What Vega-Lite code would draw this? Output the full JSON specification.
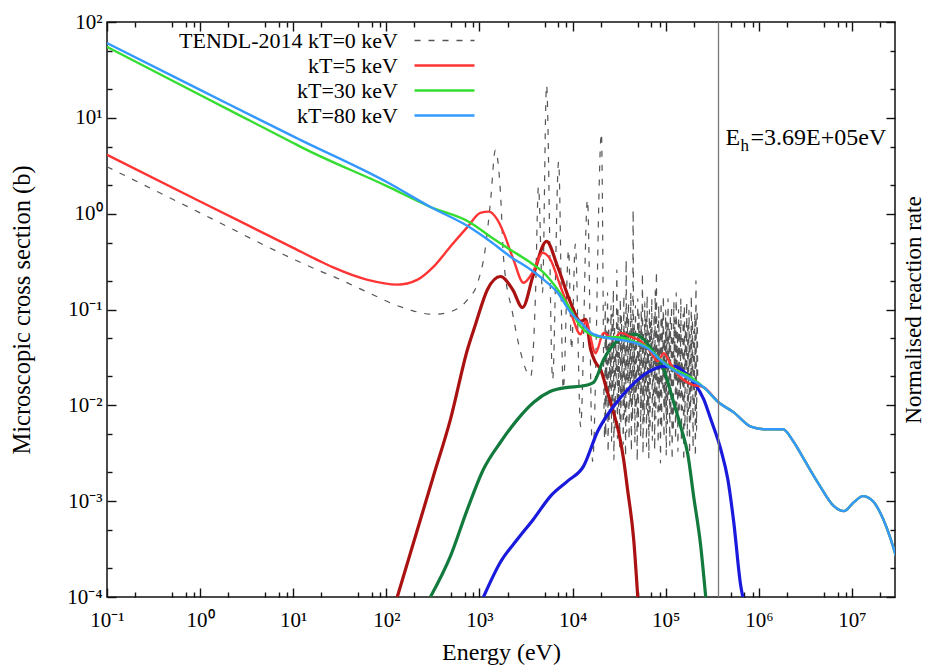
{
  "$schema": "https://vega.github.io/schema/vega-lite/v6.json",
  "width": 788,
  "height": 575,
  "autosize": {"type": "none"},
  "padding": {"left": 107, "top": 22, "right": 35, "bottom": 75},
  "background": "white",
  "config": {
    "font": "Liberation Serif",
    "view": {"stroke": "#111111", "strokeWidth": 1.5},
    "axis": {
      "labelFont": "Liberation Serif",
      "labelFontSize": 21,
      "labelColor": "black",
      "titleFont": "Liberation Serif",
      "titleFontSize": 23,
      "titleFontWeight": "normal",
      "titleColor": "black",
      "domain": false,
      "grid": false,
      "ticks": true,
      "tickColor": "#111111",
      "tickWidth": 1.4,
      "zindex": 1,
      "labelFlush": false,
      "labelOverlap": false,
      "labelBound": false
    },
    "legend": {
      "orient": "none",
      "legendX": 326,
      "legendY": 7,
      "labelAlign": "right",
      "labelOffset": -58,
      "labelLimit": 400,
      "labelFont": "Liberation Serif",
      "labelFontSize": 22,
      "labelColor": "black",
      "symbolType": "M-3,0H3",
      "symbolSize": 400,
      "symbolStrokeWidth": 2.4,
      "rowPadding": 2,
      "padding": 0
    }
  },
  "datasets": {
    "tendl": [
      {"E": 0.1, "s": 3.09}, {"E": 1, "s": 1.02}, {"E": 10, "s": 0.336}, {"E": 19.5, "s": 0.251},
      {"E": 26.9, "s": 0.221}, {"E": 63.1, "s": 0.151}, {"E": 141, "s": 0.107}, {"E": 324, "s": 0.089},
      {"E": 490, "s": 0.095}, {"E": 741, "s": 0.126}, {"E": 955, "s": 0.19}, {"E": 1150, "s": 0.42},
      {"E": 1320, "s": 1.41}, {"E": 1480, "s": 4.6}, {"E": 1680, "s": 1.66}, {"E": 1820, "s": 0.33},
      {"E": 2260, "s": 0.093}, {"E": 2760, "s": 0.036}, {"E": 3550, "s": 0.02}, {"E": 3980, "s": 0.126},
      {"E": 4300, "s": 1.9}, {"E": 4750, "s": 0.15}, {"E": 5250, "s": 21.9}, {"E": 6100, "s": 0.0186},
      {"E": 7080, "s": 3.47}, {"E": 7940, "s": 0.0148}, {"E": 9060, "s": 0.42}, {"E": 9750, "s": 0.038},
      {"E": 10700, "s": 0.48}, {"E": 12200, "s": 0.006}, {"E": 14450, "s": 1.4}, {"E": 16400, "s": 0.0026},
      {"E": 20400, "s": 6.9}, {"E": 22100, "s": 0.0045},
      {"E": 22400, "s": 0.12}, {"E": 22720, "s": 0.0048}, {"E": 23050, "s": 0.06}, {"E": 23390, "s": 0.011},
      {"E": 23730, "s": 0.15}, {"E": 24070, "s": 0.0032}, {"E": 24420, "s": 0.08}, {"E": 24770, "s": 0.0068},
      {"E": 25130, "s": 0.045}, {"E": 25490, "s": 0.015}, {"E": 25860, "s": 0.11}, {"E": 26240, "s": 0.0042},
      {"E": 26620, "s": 0.09}, {"E": 27010, "s": 0.0085}, {"E": 27400, "s": 0.16}, {"E": 27800, "s": 0.0027},
      {"E": 28200, "s": 0.07}, {"E": 28610, "s": 0.0058}, {"E": 29020, "s": 0.05}, {"E": 29440, "s": 0.019},
      {"E": 29870, "s": 0.26}, {"E": 30300, "s": 0.0045}, {"E": 30740, "s": 0.1}, {"E": 31190, "s": 0.0095},
      {"E": 31640, "s": 0.065}, {"E": 32100, "s": 0.0035}, {"E": 32560, "s": 0.13}, {"E": 33030, "s": 0.0062},
      {"E": 33510, "s": 0.085}, {"E": 34000, "s": 0.013}, {"E": 34490, "s": 0.055}, {"E": 34990, "s": 0.0039},
      {"E": 35500, "s": 0.14}, {"E": 36010, "s": 0.0078}, {"E": 36530, "s": 0.075}, {"E": 37060, "s": 0.0029},
      {"E": 37600, "s": 0.33}, {"E": 38150, "s": 0.0052}, {"E": 38700, "s": 0.095}, {"E": 39260, "s": 0.017},
      {"E": 39830, "s": 0.12}, {"E": 40410, "s": 0.0044}, {"E": 40990, "s": 0.06}, {"E": 41590, "s": 0.0105},
      {"E": 42190, "s": 0.15}, {"E": 42800, "s": 0.0033}, {"E": 43420, "s": 0.08}, {"E": 44050, "s": 0.007},
      {"E": 44690, "s": 1.1}, {"E": 45340, "s": 0.0125}, {"E": 45990, "s": 0.07}, {"E": 46660, "s": 0.0041},
      {"E": 47330, "s": 0.11}, {"E": 48020, "s": 0.009}, {"E": 48710, "s": 0.05}, {"E": 49420, "s": 0.0026},
      {"E": 50140, "s": 0.13}, {"E": 50870, "s": 0.006}, {"E": 51600, "s": 0.09}, {"E": 52350, "s": 0.016},
      {"E": 53100, "s": 0.065}, {"E": 53870, "s": 0.0047}, {"E": 54660, "s": 0.1}, {"E": 55450, "s": 0.0088},
      {"E": 56250, "s": 0.24}, {"E": 57070, "s": 0.0031}, {"E": 57900, "s": 0.055}, {"E": 58740, "s": 0.0066},
      {"E": 59590, "s": 0.12}, {"E": 60450, "s": 0.014}, {"E": 61330, "s": 0.085}, {"E": 62220, "s": 0.0037},
      {"E": 63120, "s": 0.14}, {"E": 64040, "s": 0.0081}, {"E": 64960, "s": 0.06}, {"E": 65900, "s": 0.0028},
      {"E": 66860, "s": 0.1}, {"E": 67830, "s": 0.0055}, {"E": 68810, "s": 0.075}, {"E": 69810, "s": 0.02},
      {"E": 70820, "s": 0.13}, {"E": 71850, "s": 0.0043}, {"E": 72890, "s": 0.05}, {"E": 73950, "s": 0.0098},
      {"E": 75020, "s": 0.09}, {"E": 76110, "s": 0.0034}, {"E": 77210, "s": 0.16}, {"E": 78330, "s": 0.0072},
      {"E": 79460, "s": 0.25}, {"E": 80610, "s": 0.0118}, {"E": 81780, "s": 0.07}, {"E": 82970, "s": 0.004},
      {"E": 84170, "s": 0.11}, {"E": 85390, "s": 0.0087}, {"E": 86630, "s": 0.06}, {"E": 87880, "s": 0.0025},
      {"E": 89160, "s": 0.12}, {"E": 90450, "s": 0.0057}, {"E": 91760, "s": 0.085}, {"E": 93090, "s": 0.015},
      {"E": 94440, "s": 0.14}, {"E": 95810, "s": 0.0046}, {"E": 97200, "s": 0.05}, {"E": 98610, "s": 0.0092},
      {"E": 100000, "s": 0.1}, {"E": 101400, "s": 0.003}, {"E": 102900, "s": 0.075}, {"E": 104400, "s": 0.0064},
      {"E": 105900, "s": 0.13}, {"E": 107400, "s": 0.013}, {"E": 109000, "s": 0.065}, {"E": 110600, "s": 0.0038},
      {"E": 112200, "s": 0.09}, {"E": 113800, "s": 0.008}, {"E": 115500, "s": 0.11}, {"E": 117200, "s": 0.0027},
      {"E": 118900, "s": 0.055}, {"E": 120600, "s": 0.0053}, {"E": 122300, "s": 0.12}, {"E": 124100, "s": 0.018},
      {"E": 125900, "s": 0.08}, {"E": 127700, "s": 0.0044}, {"E": 129600, "s": 0.15}, {"E": 131500, "s": 0.01},
      {"E": 133400, "s": 0.06}, {"E": 135300, "s": 0.0033}, {"E": 137300, "s": 0.1}, {"E": 139300, "s": 0.0069},
      {"E": 141300, "s": 0.07}, {"E": 143300, "s": 0.012}, {"E": 145400, "s": 0.13}, {"E": 147500, "s": 0.0041},
      {"E": 149600, "s": 0.05}, {"E": 151800, "s": 0.0089}, {"E": 154000, "s": 0.09}, {"E": 156200, "s": 0.0026},
      {"E": 158500, "s": 0.11}, {"E": 160800, "s": 0.0059}, {"E": 163100, "s": 0.065}, {"E": 165500, "s": 0.016},
      {"E": 167900, "s": 0.12}, {"E": 170300, "s": 0.0047}, {"E": 172800, "s": 0.075}, {"E": 175300, "s": 0.0086},
      {"E": 177800, "s": 0.1}, {"E": 180400, "s": 0.0031}, {"E": 183000, "s": 0.055}, {"E": 185700, "s": 0.0067},
      {"E": 188400, "s": 0.14}, {"E": 191100, "s": 0.014}, {"E": 193900, "s": 0.08}, {"E": 196700, "s": 0.0036},
      {"E": 199500, "s": 0.06}, {"E": 202400, "s": 0.0079}, {"E": 205300, "s": 0.09}, {"E": 208300, "s": 0.0029},
      {"E": 211300, "s": 0.2}, {"E": 214400, "s": 0.0054}, {"E": 217500, "s": 0.1}, {"E": 221000, "s": 0.012}
    ],
    "red": [
      {"E": 0.1, "s": 4.12}, {"E": 1, "s": 1.34}, {"E": 10, "s": 0.44}, {"E": 19.5, "s": 0.318},
      {"E": 26.9, "s": 0.275}, {"E": 63.1, "s": 0.204}, {"E": 132, "s": 0.182}, {"E": 214, "s": 0.204},
      {"E": 324, "s": 0.282}, {"E": 490, "s": 0.457}, {"E": 741, "s": 0.724}, {"E": 1023, "s": 1.02},
      {"E": 1259, "s": 1.05}, {"E": 1550, "s": 0.87}, {"E": 1820, "s": 0.63}, {"E": 2320, "s": 0.33},
      {"E": 2970, "s": 0.19}, {"E": 3720, "s": 0.243}, {"E": 4750, "s": 0.39}, {"E": 5800, "s": 0.33},
      {"E": 7420, "s": 0.174}, {"E": 9550, "s": 0.093}, {"E": 12190, "s": 0.055}, {"E": 13800, "s": 0.075},
      {"E": 17660, "s": 0.035}, {"E": 21500, "s": 0.057}, {"E": 27540, "s": 0.049}, {"E": 32800, "s": 0.057},
      {"E": 41900, "s": 0.052}, {"E": 53700, "s": 0.047}, {"E": 69000, "s": 0.036}, {"E": 82000, "s": 0.029},
      {"E": 95500, "s": 0.035}, {"E": 113000, "s": 0.027}, {"E": 145000, "s": 0.0195}, {"E": 186000, "s": 0.0166},
      {"E": 256300, "s": 0.0154}, {"E": 371500, "s": 0.0107}, {"E": 538000, "s": 0.00845}, {"E": 820000, "s": 0.006},
      {"E": 1190000, "s": 0.00562}, {"E": 1810000, "s": 0.00562}, {"E": 2380000, "s": 0.00412}, {"E": 3050000, "s": 0.00274},
      {"E": 4420000, "s": 0.0015}, {"E": 6400000, "s": 0.000887}, {"E": 8200000, "s": 0.000787}, {"E": 10500000, "s": 0.000977},
      {"E": 13100000, "s": 0.00113}, {"E": 16800000, "s": 0.001}, {"E": 20500000, "s": 0.00073}, {"E": 25000000, "s": 0.000453},
      {"E": 29700000, "s": 0.000267}
    ],
    "green": [
      {"E": 0.1, "s": 55}, {"E": 1, "s": 17.3}, {"E": 10, "s": 5.47}, {"E": 11.9, "s": 5.01},
      {"E": 100, "s": 1.95}, {"E": 295, "s": 1.18}, {"E": 800, "s": 0.805}, {"E": 1312, "s": 0.575},
      {"E": 2150, "s": 0.42}, {"E": 3530, "s": 0.309}, {"E": 4880, "s": 0.243}, {"E": 6900, "s": 0.162},
      {"E": 9510, "s": 0.1}, {"E": 12190, "s": 0.0665}, {"E": 15630, "s": 0.055}, {"E": 21550, "s": 0.0513},
      {"E": 30500, "s": 0.0513}, {"E": 45300, "s": 0.0464}, {"E": 64000, "s": 0.0402}, {"E": 88300, "s": 0.03},
      {"E": 113000, "s": 0.0249}, {"E": 186000, "s": 0.0196},
      {"E": 256300, "s": 0.0154}, {"E": 371500, "s": 0.0107}, {"E": 538000, "s": 0.00845}, {"E": 820000, "s": 0.006},
      {"E": 1190000, "s": 0.00562}, {"E": 1810000, "s": 0.00562}, {"E": 2380000, "s": 0.00412}, {"E": 3050000, "s": 0.00274},
      {"E": 4420000, "s": 0.0015}, {"E": 6400000, "s": 0.000887}, {"E": 8200000, "s": 0.000787}, {"E": 10500000, "s": 0.000977},
      {"E": 13100000, "s": 0.00113}, {"E": 16800000, "s": 0.001}, {"E": 20500000, "s": 0.00073}, {"E": 25000000, "s": 0.000453},
      {"E": 29700000, "s": 0.000267}
    ],
    "blue": [
      {"E": 0.1, "s": 60.3}, {"E": 1, "s": 19.6}, {"E": 10, "s": 6.4}, {"E": 11.9, "s": 5.89},
      {"E": 100, "s": 2.15}, {"E": 295, "s": 1.18}, {"E": 800, "s": 0.714}, {"E": 1312, "s": 0.513},
      {"E": 2150, "s": 0.356}, {"E": 3530, "s": 0.261}, {"E": 4880, "s": 0.205}, {"E": 6900, "s": 0.15},
      {"E": 9510, "s": 0.093}, {"E": 12190, "s": 0.0733}, {"E": 15630, "s": 0.0575}, {"E": 21550, "s": 0.0513},
      {"E": 30500, "s": 0.0487}, {"E": 45300, "s": 0.0453}, {"E": 64000, "s": 0.0393}, {"E": 88300, "s": 0.0295},
      {"E": 113000, "s": 0.0243}, {"E": 186000, "s": 0.0186},
      {"E": 256300, "s": 0.0154}, {"E": 371500, "s": 0.0107}, {"E": 538000, "s": 0.00845}, {"E": 820000, "s": 0.006},
      {"E": 1190000, "s": 0.00562}, {"E": 1810000, "s": 0.00562}, {"E": 2380000, "s": 0.00412}, {"E": 3050000, "s": 0.00274},
      {"E": 4420000, "s": 0.0015}, {"E": 6400000, "s": 0.000887}, {"E": 8200000, "s": 0.000787}, {"E": 10500000, "s": 0.000977},
      {"E": 13100000, "s": 0.00113}, {"E": 16800000, "s": 0.001}, {"E": 20500000, "s": 0.00073}, {"E": 25000000, "s": 0.000453},
      {"E": 29700000, "s": 0.000267}
    ],
    "rr5": [
      {"E": 131, "s": 0.0001}, {"E": 320, "s": 0.00182}, {"E": 488, "s": 0.00714}, {"E": 743, "s": 0.0383},
      {"E": 906, "s": 0.0698}, {"E": 1219, "s": 0.162}, {"E": 1682, "s": 0.221}, {"E": 2265, "s": 0.162},
      {"E": 2900, "s": 0.105}, {"E": 3800, "s": 0.232}, {"E": 5250, "s": 0.513}, {"E": 6900, "s": 0.281},
      {"E": 9510, "s": 0.118}, {"E": 12190, "s": 0.075}, {"E": 13800, "s": 0.079}, {"E": 15630, "s": 0.0383},
      {"E": 17660, "s": 0.028}, {"E": 19950, "s": 0.0237}, {"E": 23770, "s": 0.0136}, {"E": 27540, "s": 0.00845},
      {"E": 31260, "s": 0.00525}, {"E": 35300, "s": 0.00274}, {"E": 38900, "s": 0.00133}, {"E": 45300, "s": 0.0004},
      {"E": 50100, "s": 0.0001}
    ],
    "rr30": [
      {"E": 297, "s": 0.0001}, {"E": 488, "s": 0.000267}, {"E": 743, "s": 0.000826}, {"E": 1104, "s": 0.00215},
      {"E": 1682, "s": 0.00412}, {"E": 2565, "s": 0.00714}, {"E": 3800, "s": 0.0107}, {"E": 5800, "s": 0.014},
      {"E": 8830, "s": 0.0154}, {"E": 12190, "s": 0.0158}, {"E": 16830, "s": 0.0174}, {"E": 21550, "s": 0.03},
      {"E": 27540, "s": 0.0431}, {"E": 34500, "s": 0.0513}, {"E": 47500, "s": 0.055}, {"E": 58000, "s": 0.0487},
      {"E": 74300, "s": 0.0356}, {"E": 95100, "s": 0.0237}, {"E": 121900, "s": 0.0107}, {"E": 144900, "s": 0.006},
      {"E": 172500, "s": 0.0031}, {"E": 199600, "s": 0.00112}, {"E": 237700, "s": 0.00034}, {"E": 269000, "s": 0.0001}
    ],
    "rr80": [
      {"E": 1104, "s": 0.0001}, {"E": 1682, "s": 0.000232}, {"E": 2565, "s": 0.000402}, {"E": 3800, "s": 0.000649},
      {"E": 5800, "s": 0.00113}, {"E": 8830, "s": 0.00162}, {"E": 13120, "s": 0.00232}, {"E": 18600, "s": 0.00537},
      {"E": 27600, "s": 0.00977}, {"E": 42100, "s": 0.0158}, {"E": 64000, "s": 0.0221}, {"E": 95100, "s": 0.0255},
      {"E": 121900, "s": 0.0255}, {"E": 156300, "s": 0.0226}, {"E": 199600, "s": 0.0174}, {"E": 256300, "s": 0.01155},
      {"E": 305000, "s": 0.00714}, {"E": 390000, "s": 0.00348}, {"E": 464000, "s": 0.0017}, {"E": 538000, "s": 0.000603},
      {"E": 640000, "s": 0.00013}, {"E": 673000, "s": 0.0001}
    ]
  },
  "resolve": {"axis": {"x": "independent", "y": "independent"}},
  "layer": [
    {
      "data": {"name": "tendl"},
      "mark": {"type": "line", "strokeWidth": 1.2, "clip": true, "interpolate": "monotone"},
      "encoding": {
        "x": {
          "field": "E", "type": "quantitative",
          "scale": {"type": "log", "domain": [0.1, 29000000], "nice": false},
          "axis": {
            "orient": "bottom",
            "title": "Energy (eV)",
            "titleFontSize": 24,
            "titlePadding": 10,
            "values": [0.1, 1, 10, 100, 1000, 10000, 100000, 1000000, 10000000],
            "labelExpr": "'10' + (round(log(datum.value)/LN10) < 0 ? '⁻' : '') + substring('⁰¹²³⁴⁵⁶⁷⁸⁹', abs(round(log(datum.value)/LN10)), abs(round(log(datum.value)/LN10)) + 1)",
            "tickSize": 9,
            "offset": -9,
            "labelPadding": 12
          }
        },
        "y": {
          "field": "s", "type": "quantitative",
          "scale": {"type": "log", "domain": [0.0001, 100], "nice": false},
          "axis": {
            "orient": "left",
            "title": "Microscopic cross section (b)",
            "titleFontSize": 24.5,
            "titlePadding": 32,
            "values": [0.0001, 0.001, 0.01, 0.1, 1, 10, 100],
            "labelExpr": "'10' + (round(log(datum.value)/LN10) < 0 ? '⁻' : '') + substring('⁰¹²³⁴⁵⁶⁷⁸⁹', abs(round(log(datum.value)/LN10)), abs(round(log(datum.value)/LN10)) + 1)",
            "tickSize": 9,
            "offset": -9,
            "labelPadding": 5
          }
        },
        "color": {
          "datum": "TENDL-2014 kT=0 keV", "type": "nominal",
          "scale": {"domain": ["TENDL-2014 kT=0 keV", "kT=5 keV", "kT=30 keV", "kT=80 keV"], "range": ["#555555", "#ff3535", "#35dd30", "#3399ff"]},
          "legend": {"title": null, "encode": {"symbols": {"update": {"strokeWidth": {"signal": "(datum.value === 'TENDL-2014 kT=0 keV' ? 1.3 : 2.6)"}}}}}
        },
        "strokeDash": {
          "datum": "TENDL-2014 kT=0 keV", "type": "nominal",
          "scale": {"domain": ["TENDL-2014 kT=0 keV", "kT=5 keV", "kT=30 keV", "kT=80 keV"], "range": [[6, 8], [1, 0], [1, 0], [1, 0]]},
          "legend": {"title": null}
        }
      }
    },
    {
      "data": {"name": "rr5"},
      "mark": {"type": "line", "strokeWidth": 3.2, "color": "#aa1111", "clip": true, "interpolate": "monotone"},
      "encoding": {
        "x": {
          "field": "E", "type": "quantitative",
          "axis": {
            "orient": "top", "title": null, "labels": false,
            "values": [0.1, 1, 10, 100, 1000, 10000, 100000, 1000000, 10000000],
            "tickSize": 9,
            "offset": -9
          }
        },
        "y": {
          "field": "s", "type": "quantitative",
          "axis": {
            "orient": "right", "title": "Normalised reaction rate", "labels": false,
            "titleAngle": 270, "titleBaseline": "top", "titlePadding": 7, "titleFontSize": 23,
            "values": [0.0001, 0.001, 0.01, 0.1, 1, 10, 100],
            "tickSize": 9,
            "offset": -9
          }
        }
      }
    },
    {
      "data": {"name": "rr30"},
      "mark": {"type": "line", "strokeWidth": 3.2, "color": "#127a3c", "clip": true, "interpolate": "monotone"},
      "encoding": {
        "x": {
          "field": "E", "type": "quantitative",
          "axis": {
            "orient": "bottom", "title": null, "labels": false,
            "values": [0.2, 0.5, 0.7, 0.86, 2, 5, 7, 8.6, 20, 50, 70, 86, 200, 500, 700, 860, 2000, 5000, 7000, 8600, 20000, 50000, 70000, 86000, 200000, 500000, 700000, 860000, 2000000, 5000000, 7000000, 8600000, 20000000],
            "tickSize": 5,
            "offset": -5
          }
        },
        "y": {
          "field": "s", "type": "quantitative",
          "axis": {
            "orient": "left", "title": null, "labels": false,
            "values": [0.0002, 0.0005, 0.002, 0.005, 0.02, 0.05, 0.2, 0.5, 2, 5, 20, 50],
            "tickSize": 5,
            "offset": -5
          }
        }
      }
    },
    {
      "data": {"name": "rr80"},
      "mark": {"type": "line", "strokeWidth": 3.2, "color": "#1a1adc", "clip": true, "interpolate": "monotone"},
      "encoding": {
        "x": {
          "field": "E", "type": "quantitative",
          "axis": {
            "orient": "top", "title": null, "labels": false,
            "values": [0.2, 0.5, 0.7, 0.86, 2, 5, 7, 8.6, 20, 50, 70, 86, 200, 500, 700, 860, 2000, 5000, 7000, 8600, 20000, 50000, 70000, 86000, 200000, 500000, 700000, 860000, 2000000, 5000000, 7000000, 8600000, 20000000],
            "tickSize": 5,
            "offset": -5
          }
        },
        "y": {
          "field": "s", "type": "quantitative",
          "axis": {
            "orient": "right", "title": null, "labels": false,
            "values": [0.0002, 0.0005, 0.002, 0.005, 0.02, 0.05, 0.2, 0.5, 2, 5, 20, 50],
            "tickSize": 5,
            "offset": -5
          }
        }
      }
    },
    {
      "data": {"name": "red"},
      "mark": {"type": "line", "strokeWidth": 2.4, "clip": true, "interpolate": "monotone"},
      "encoding": {
        "x": {"field": "E", "type": "quantitative", "axis": null},
        "y": {"field": "s", "type": "quantitative", "axis": null},
        "color": {"datum": "kT=5 keV", "type": "nominal"}
      }
    },
    {
      "data": {"name": "green"},
      "mark": {"type": "line", "strokeWidth": 2.4, "clip": true, "interpolate": "monotone"},
      "encoding": {
        "x": {"field": "E", "type": "quantitative", "axis": null},
        "y": {"field": "s", "type": "quantitative", "axis": null},
        "color": {"datum": "kT=30 keV", "type": "nominal"}
      }
    },
    {
      "data": {"name": "blue"},
      "mark": {"type": "line", "strokeWidth": 2.4, "clip": true, "interpolate": "monotone"},
      "encoding": {
        "x": {"field": "E", "type": "quantitative", "axis": null},
        "y": {"field": "s", "type": "quantitative", "axis": null},
        "color": {"datum": "kT=80 keV", "type": "nominal"}
      }
    },
    {
      "data": {"values": [{"E": 369000}]},
      "mark": {"type": "rule", "color": "#777777", "strokeWidth": 1.3},
      "encoding": {
        "x": {"field": "E", "type": "quantitative", "axis": null}
      }
    },
    {
      "data": {"values": [{"E": 369000, "s": 5.2, "t": "E"}]},
      "mark": {"type": "text", "align": "left", "baseline": "alphabetic", "dx": 7, "fontSize": 24, "font": "Liberation Serif", "color": "black"},
      "encoding": {
        "x": {"field": "E", "type": "quantitative", "axis": null},
        "y": {"field": "s", "type": "quantitative", "axis": null},
        "text": {"field": "t"}
      }
    },
    {
      "data": {"values": [{"E": 369000, "s": 5.2, "t": "h"}]},
      "mark": {"type": "text", "align": "left", "baseline": "alphabetic", "dx": 22, "dy": 6, "fontSize": 17, "font": "Liberation Serif", "color": "black"},
      "encoding": {
        "x": {"field": "E", "type": "quantitative", "axis": null},
        "y": {"field": "s", "type": "quantitative", "axis": null},
        "text": {"field": "t"}
      }
    },
    {
      "data": {"values": [{"E": 369000, "s": 5.2, "t": "=3.69E+05eV"}]},
      "mark": {"type": "text", "align": "left", "baseline": "alphabetic", "dx": 32, "fontSize": 24, "font": "Liberation Serif", "color": "black"},
      "encoding": {
        "x": {"field": "E", "type": "quantitative", "axis": null},
        "y": {"field": "s", "type": "quantitative", "axis": null},
        "text": {"field": "t"}
      }
    }
  ]
}
